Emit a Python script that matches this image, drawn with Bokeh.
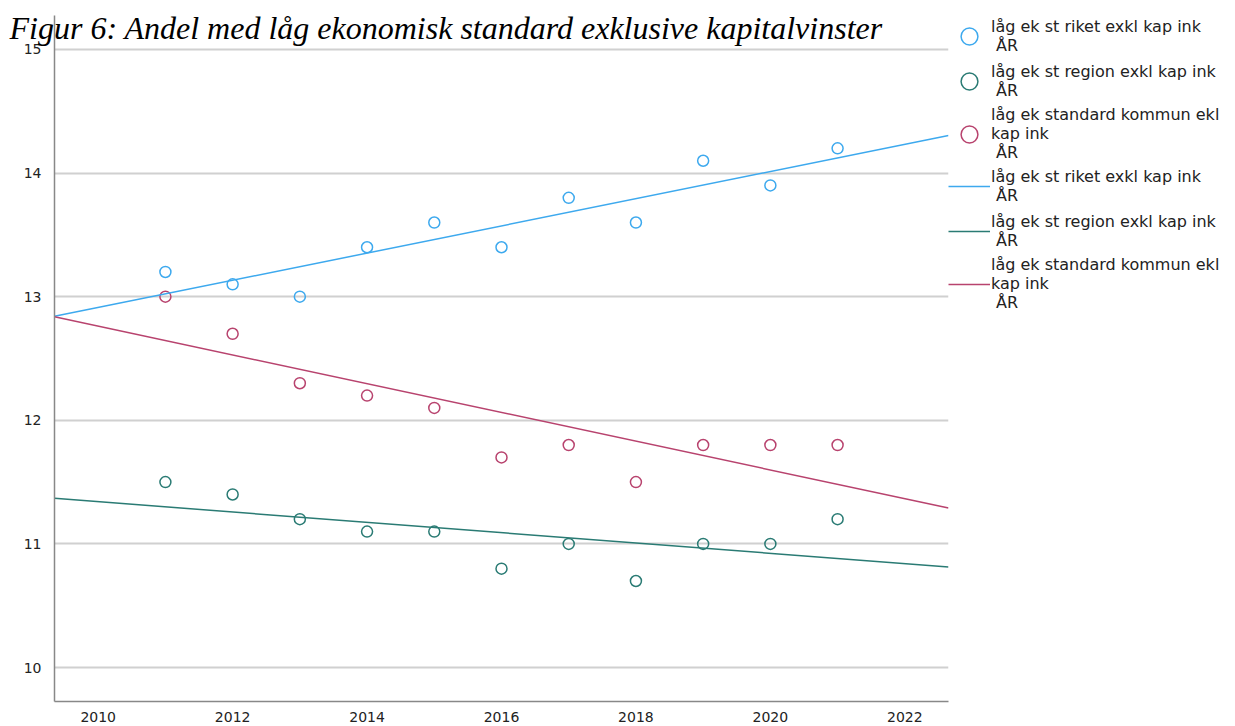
import numpy as np
from bokeh.plotting import figure
from bokeh.models import Legend, LegendItem, Range1d, FixedTicker
from bokeh.embed import file_html
from bokeh.resources import INLINE

years = [2011, 2012, 2013, 2014, 2015, 2016, 2017, 2018, 2019, 2020, 2021]
riket = [13.2, 13.1, 13.0, 13.4, 13.6, 13.4, 13.8, 13.6, 14.1, 13.9, 14.2]
region = [11.5, 11.4, 11.2, 11.1, 11.1, 10.8, 11.0, 10.7, 11.0, 11.0, 11.2]
kommun = [13.0, 12.7, 12.3, 12.2, 12.1, 11.7, 11.8, 11.5, 11.8, 11.8, 11.8]

labels = [
    "låg ek st riket exkl kap ink\n ÅR",
    "låg ek st region exkl kap ink\n ÅR",
    "låg ek standard kommun ekl\nkap ink\n ÅR",
]
colors = ["#3DA9EE", "#2A7B74", "#B8436E"]
x_ticks = [2010, 2012, 2014, 2016, 2018, 2020, 2022]
y_ticks = [10, 11, 12, 13, 14, 15]
title = "Figur 6: Andel med låg ekonomisk standard exklusive kapitalvinster"

x0, x1 = 2009.35, 2022.65
p = figure(frame_width=894, frame_height=686, output_backend="svg", toolbar_location=None,
           x_range=Range1d(x0, x1), y_range=Range1d(9.725, 15.275),
           min_border_left=54, min_border_right=0, min_border_top=15, min_border_bottom=22)
p.title.text = title
p.title.text_font = "Liberation Serif"
p.title.text_font_style = "italic"
p.title.text_font_size = "32px"
p.title.text_color = "black"
p.title.align = "left"
p.title.offset = -45
p.title.standoff = -60
p.outline_line_color = None
p.background_fill_color = "white"
p.xgrid.grid_line_color = None
p.ygrid.grid_line_color = "#d0d0d0"
p.ygrid.grid_line_width = 2
p.xaxis.ticker = FixedTicker(ticks=x_ticks)
p.yaxis.ticker = FixedTicker(ticks=y_ticks)
for ax in (p.xaxis, p.yaxis):
    ax.axis_line_color = "#888888"
    ax.axis_line_width = 1.5
    ax.major_tick_line_color = None
    ax.minor_tick_line_color = None
    ax.major_label_text_font = "DejaVu Sans"
    ax.major_label_text_font_size = "14px"
    ax.major_label_text_color = "#222222"
p.xaxis.major_label_standoff = 4
p.yaxis.major_label_standoff = 7

series = [riket, region, kommun]
pts = []
lines = []
xs = np.array(years, dtype=float)
for ys, c in zip(series, colors):
    r = p.scatter(years, ys, marker="circle", size=11, fill_color=None,
                  line_color=c, line_width=1.5)
    pts.append(r)
for ys, c in zip(series, colors):
    k, b = np.polyfit(xs, np.array(ys), 1)
    r = p.line([x0, x1], [k * x0 + b, k * x1 + b], line_color=c, line_width=1.5)
    lines.append(r)

items = [LegendItem(label=l, renderers=[r]) for l, r in zip(labels, pts)]
items += [LegendItem(label=l, renderers=[r]) for l, r in zip(labels, lines)]
legend = Legend(items=items, location="top_left", padding=0, margin=0,
                border_line_color=None, background_fill_alpha=0,
                glyph_width=42, glyph_height=42, label_standoff=1, spacing=3,
                label_text_font="DejaVu Sans", label_text_font_size="16px",
                label_text_line_height=1.12, label_text_color="#222222")
p.add_layout(legend, "right")

open("out.html", "w").write(file_html(p, INLINE))
